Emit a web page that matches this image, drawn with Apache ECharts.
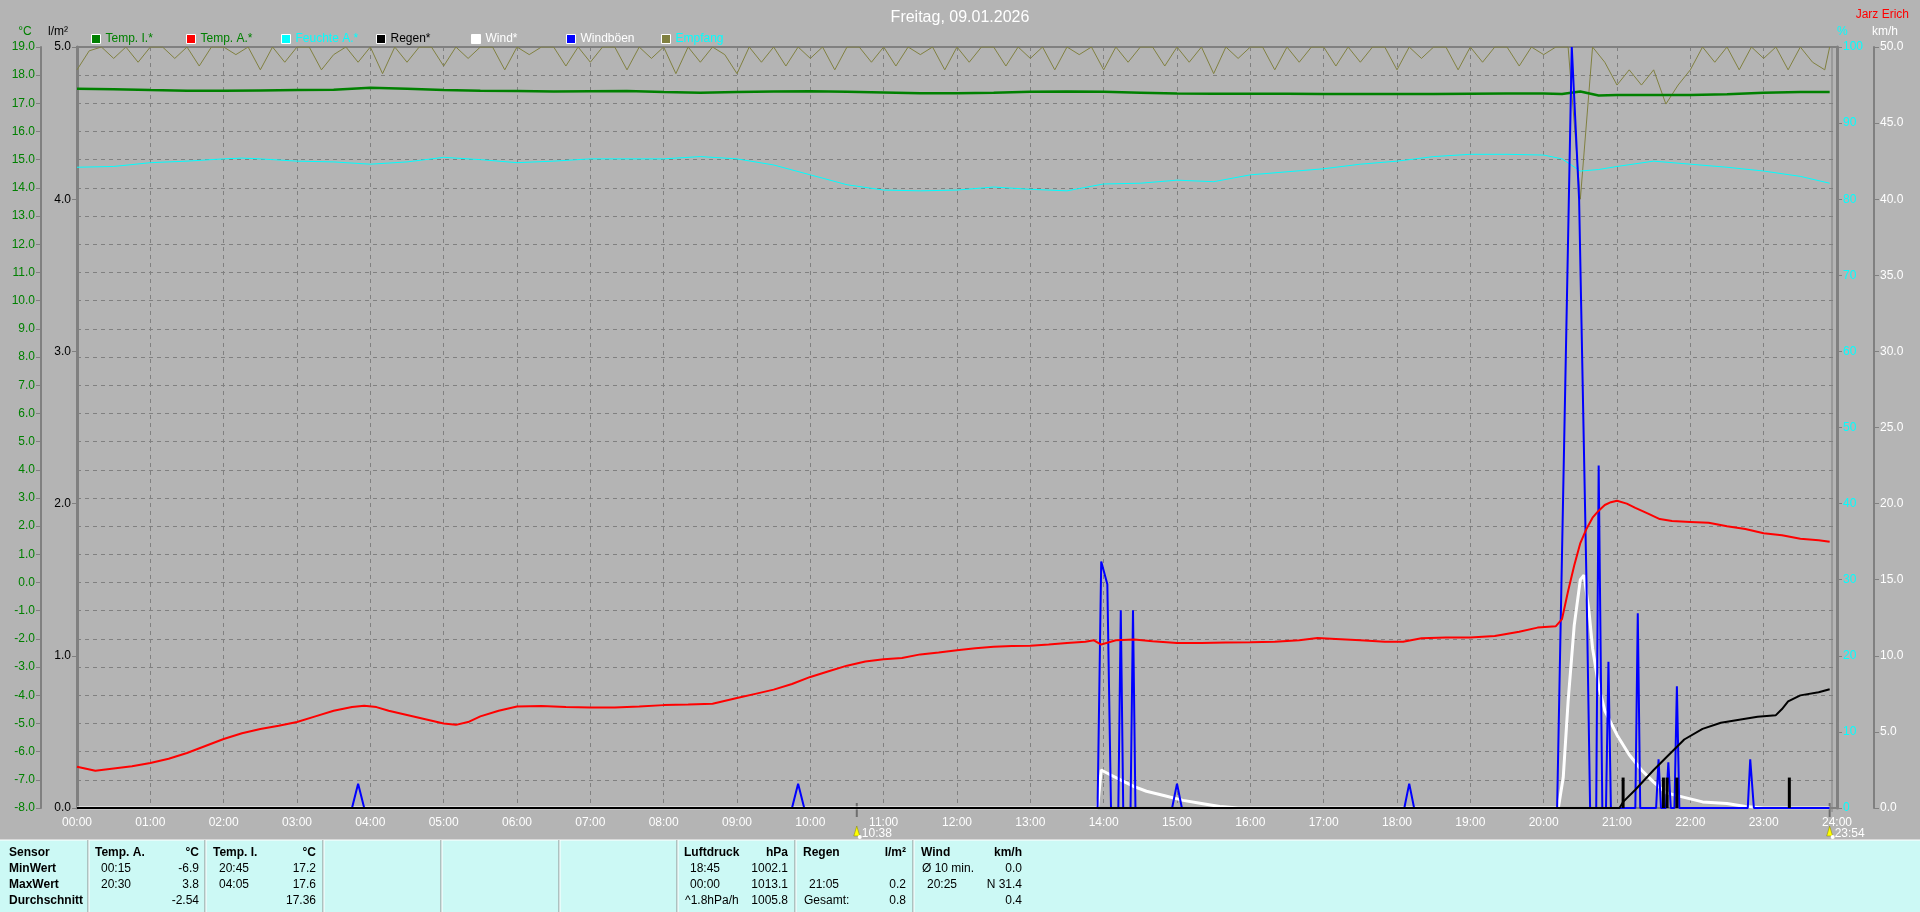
<!DOCTYPE html>
<html><head><meta charset="utf-8">
<script src="https://cdn.jsdelivr.net/npm/echarts@6/dist/echarts.min.js"></script>
<style>html,body{margin:0;padding:0;background:#b4b4b4;overflow:hidden}#c{width:1920px;height:912px;}</style>
</head><body><div id="c"></div><script>
// ---------------- DATA (minutes since 00:00, value) ----------------
const titleText = 'Freitag, 09.01.2026';
const authorText = 'Jarz Erich';
const legendNames = ['Temp. I.*','Temp. A.*','Feuchte A.*','Regen*','Wind*','Windböen','Empfang'];
const axisNames = ['°C','l/m²','%','km/h'];

const tempI = [[0,17.52],[30,17.5],[60,17.47],[90,17.45],[120,17.45],[150,17.46],[180,17.47],[210,17.48],[240,17.55],[270,17.52],[300,17.47],[330,17.45],[360,17.44],[390,17.42],[420,17.43],[450,17.44],[480,17.4],[510,17.38],[540,17.4],[570,17.42],[600,17.43],[630,17.41],[660,17.39],[690,17.36],[720,17.36],[750,17.38],[780,17.41],[810,17.42],[840,17.41],[870,17.38],[900,17.35],[930,17.34],[960,17.34],[990,17.34],[1020,17.33],[1050,17.33],[1080,17.33],[1110,17.33],[1140,17.34],[1170,17.35],[1200,17.35],[1215,17.33],[1230,17.42],[1245,17.28],[1260,17.3],[1290,17.3],[1320,17.3],[1350,17.32],[1380,17.38],[1410,17.4],[1434,17.4]];

const tempA = [[0,-6.54],[15,-6.68],[30,-6.6],[45,-6.52],[60,-6.4],[75,-6.25],[90,-6.05],[105,-5.8],[120,-5.55],[135,-5.35],[150,-5.2],[165,-5.08],[180,-4.95],[195,-4.75],[210,-4.55],[225,-4.42],[235,-4.37],[245,-4.42],[255,-4.55],[270,-4.7],[285,-4.85],[300,-5.0],[310,-5.05],[320,-4.95],[330,-4.75],[345,-4.55],[360,-4.4],[380,-4.38],[400,-4.42],[420,-4.43],[440,-4.43],[460,-4.4],[480,-4.35],[500,-4.33],[520,-4.3],[540,-4.1],[555,-3.95],[570,-3.8],[585,-3.6],[600,-3.35],[615,-3.15],[630,-2.95],[645,-2.8],[660,-2.72],[675,-2.68],[690,-2.55],[705,-2.48],[720,-2.4],[735,-2.33],[750,-2.28],[765,-2.25],[780,-2.24],[795,-2.2],[810,-2.15],[825,-2.1],[832,-2.05],[838,-2.2],[850,-2.05],[865,-2.02],[880,-2.08],[900,-2.15],[920,-2.15],[940,-2.13],[960,-2.12],[980,-2.1],[1000,-2.05],[1015,-1.97],[1030,-2.0],[1050,-2.05],[1070,-2.1],[1085,-2.1],[1100,-1.98],[1120,-1.95],[1140,-1.95],[1160,-1.9],[1180,-1.75],[1195,-1.6],[1210,-1.55],[1215,-1.3],[1220,-0.3],[1225,0.6],[1230,1.4],[1235,1.9],[1240,2.3],[1245,2.55],[1250,2.75],[1255,2.85],[1260,2.9],[1268,2.8],[1275,2.65],[1285,2.45],[1295,2.25],[1305,2.18],[1320,2.15],[1335,2.12],[1350,2.0],[1365,1.9],[1380,1.75],[1395,1.68],[1410,1.55],[1425,1.5],[1434,1.45]];

const humidity = [[0,84.2],[30,84.3],[60,84.8],[90,85.0],[120,85.3],[135,85.4],[150,85.3],[180,85.0],[210,84.9],[240,84.6],[270,84.9],[300,85.5],[330,85.2],[360,84.8],[390,85.0],[420,85.3],[450,85.3],[480,85.3],[510,85.6],[540,85.3],[570,84.5],[600,83.2],[630,81.9],[660,81.2],[690,81.1],[720,81.2],[750,81.6],[780,81.3],[810,81.1],[840,82.0],[870,82.1],[900,82.5],[930,82.3],[960,83.2],[990,83.6],[1020,84.0],[1050,84.6],[1080,85.0],[1110,85.6],[1140,85.9],[1170,85.9],[1200,85.8],[1215,85.3],[1230,83.7],[1245,83.9],[1260,84.3],[1290,85.0],[1320,84.6],[1350,84.2],[1380,83.7],[1410,83.0],[1434,82.1]];

const rainSum = [[0,0],[1262,0],[1265,0.04],[1275,0.12],[1290,0.25],[1300,0.33],[1315,0.45],[1330,0.52],[1345,0.56],[1360,0.58],[1375,0.6],[1390,0.61],[1395,0.65],[1400,0.7],[1410,0.74],[1425,0.76],[1434,0.78]];
const rainBars = [[1265,0.2],[1298,0.2],[1301,0.2],[1309,0.2],[1401,0.2]];

const wind = [[0,0],[835,0],[838,2.5],[845,2.2],[855,1.8],[865,1.4],[875,1.1],[890,0.8],[905,0.5],[920,0.3],[935,0.1],[950,0],[1212,0],[1216,2],[1220,7],[1225,12],[1230,15.0],[1233,15.3],[1237,13],[1240,10.5],[1245,8],[1250,6.4],[1260,4.8],[1270,3.5],[1280,2.5],[1290,1.7],[1300,1.0],[1315,0.7],[1330,0.4],[1350,0.3],[1365,0.1],[1380,0],[1434,0]];

const gusts = [[0,0],[225,0],[230,1.6],[235,0],[585,0],[590,1.6],[595,0],[835,0],[838,16.2],[843,14.7],[846,0],[852,0],[854,13],[856,0],[862,0],[864,13],[866,0],[896,0],[900,1.6],[904,0],[1086,0],[1090,1.6],[1094,0],[1211,0],[1223,50],[1229,40],[1235,15],[1238,0],[1243,0],[1245,22.5],[1248,0],[1251,0],[1253,9.6],[1255,0],[1275,0],[1277,12.8],[1279,0],[1292,0],[1294,3.2],[1296,0],[1300,0],[1302,3],[1304,0],[1307,0],[1309,8],[1311,0],[1367,0],[1369,3.2],[1372,0],[1434,0]];

const reception = [[0,97],[10,99.5],[20,100],[30,98.5],[40,100],[50,98],[60,100],[70,100],[80,98.5],[90,100],[100,97.5],[110,100],[120,100],[130,99],[140,100],[150,97],[160,100],[170,98],[180,100],[190,100],[200,97],[210,99],[220,100],[230,98],[240,100],[250,96.5],[260,100],[270,98],[280,100],[290,100],[300,97.5],[310,100],[320,98.5],[330,100],[340,100],[350,97],[360,100],[370,99],[380,100],[390,100],[400,97.5],[410,100],[420,98],[430,100],[440,100],[450,97],[460,100],[470,98.5],[480,100],[490,96.5],[500,100],[510,98],[520,100],[530,99],[540,96.5],[550,100],[560,98],[570,100],[580,97.5],[590,100],[600,98.5],[610,100],[620,97],[630,100],[640,100],[650,98],[660,100],[670,97.5],[680,100],[690,99],[700,100],[710,97],[720,100],[730,98],[740,100],[750,100],[760,97.5],[770,100],[780,98.5],[790,100],[800,97],[810,100],[820,99],[830,100],[840,97],[850,100],[860,98],[870,100],[880,100],[890,97.5],[900,100],[910,98],[920,100],[930,96.5],[940,100],[950,98.5],[960,100],[970,100],[980,97],[990,100],[1000,98],[1010,100],[1020,100],[1030,97.5],[1040,100],[1050,98],[1060,100],[1070,100],[1080,97],[1090,100],[1100,98.5],[1110,100],[1120,100],[1130,97],[1140,100],[1150,98],[1160,100],[1170,100],[1180,97.5],[1190,100],[1200,99],[1210,100],[1220,100],[1230,80],[1240,100],[1250,98],[1260,95],[1270,97],[1280,95],[1290,97],[1300,92.5],[1310,95],[1320,97],[1330,100],[1340,98],[1350,100],[1360,97],[1370,100],[1380,98.5],[1390,100],[1400,97],[1410,100],[1420,98],[1430,97],[1434,100]];

// statistics table
const statLabels = ['Sensor','MinWert','MaxWert','Durchschnitt'];
const statTempA = {head:'Temp. A.', unit:'°C', times:['00:15','20:30',''], vals:['-6.9','3.8','-2.54']};
const statTempI = {head:'Temp. I.', unit:'°C', times:['20:45','04:05',''], vals:['17.2','17.6','17.36']};
const statPress = {head:'Luftdruck', unit:'hPa', times:['18:45','00:00','^1.8hPa/h'], vals:['1002.1','1013.1','1005.8']};
const statRain  = {head:'Regen', unit:'l/m²', times:['','21:05','Gesamt:'], vals:['','0.2','0.8']};
const statWind  = {head:'Wind', unit:'km/h', times:['Ø 10 min.','20:25',''], vals:['0.0','N 31.4','0.4']};
const sunMarks = [[638,'10:38'],[1434,'23:54']];

// ---------------- CHART ----------------
const FN = "'Liberation Sans',Arial,sans-serif";
const FW = "'Liberation Sans',Arial,sans-serif";
const pad2 = n => (n<10?'0':'')+n;
const colors = ['#008000','#ff0000','#00ffff','#000000','#ffffff','#0000ff','#808040'];
const textColors = ['#008000','#008000','#00ffff','#000000','#ffffff','#ffffff','#00ffff'];
const legendX = [91,186,281,376,471,566,661];

const chart = echarts.init(document.getElementById('c'), null, {renderer:'canvas'});
const gridL=77, gridT=47, gridR=1920-1837, gridB=912-808;

function lineSeries(name, data, yIdx, color, width, z){
  return {name, type:'line', data, yAxisIndex:yIdx, symbol:'none', animation:false, z,
    lineStyle:{color, width}, itemStyle:{color}};
}
function yAx(pos, offset, min, max, interval, color, fmt, lineW, split){
  return {type:'value', position:pos, offset, min, max, interval,
    axisLine:{show:true, onZero:false, lineStyle:{color:'#808080', width:lineW}},
    axisTick:{show:true, length:5, lineStyle:{color:'#808080'}},
    axisLabel:{color, fontSize:12, fontFamily:FN, margin:6, formatter:fmt},
    splitLine: split ? {show:true, lineStyle:{color:'#808080', type:[4,4], width:1}} : {show:false}};
}

const option = {
  backgroundColor:'#b4b4b4',
  animation:false,
  textStyle:{fontFamily:FN},
  title:[
    {text:titleText, left:'center', top:5, textStyle:{color:'#fff', fontSize:16, fontWeight:'normal', fontFamily:FW}},
    {text:authorText, right:6, top:4, textStyle:{color:'#ff0000', fontSize:12, fontWeight:'normal', fontFamily:FN}}
  ],
  legend: legendNames.map((n,i)=>({
    data:[{name:n, textStyle:{color:textColors[i]}}], left:legendX[i], top:33, padding:0,
    icon:'rect', itemWidth:9, itemHeight:9, itemGap:4, selectedMode:false,
    itemStyle:{borderColor:'#ffffff', borderWidth:1},
    textStyle:{fontSize:12, fontFamily:FN}
  })),
  grid:{left:gridL, top:gridT, right:gridR, bottom:gridB, show:true, borderColor:'#808080', borderWidth:2, backgroundColor:'transparent'},
  xAxis:{type:'value', min:0, max:1440, interval:60,
    axisLine:{onZero:false, lineStyle:{color:'#808080', width:2}}, axisTick:{show:false},
    axisLabel:{color:'#fff', fontSize:12, fontFamily:FN, margin:9, formatter:v=>pad2(v/60)+':00'},
    splitLine:{show:true, lineStyle:{color:'#808080', type:[4,4], width:1}}},
  yAxis:[
    yAx('left', 36, -8, 19, 1, '#008000', v=>v.toFixed(1), 2, true),
    yAx('left', 0, 0, 5, 1, '#000000', v=>v.toFixed(1), 3, false),
    yAx('right', 0, 0, 100, 10, '#00ffff', v=>String(v), 3, false),
    yAx('right', 37, 0, 50, 5, '#ffffff', v=>v.toFixed(1), 2, false)
  ],
  series:[
    lineSeries(legendNames[6], reception, 2, colors[6], 1, 2),
    lineSeries(legendNames[2], humidity, 2, colors[2], 1, 3),
    lineSeries(legendNames[0], tempI, 0, colors[0], 2.5, 4),
    lineSeries(legendNames[4], wind, 3, colors[4], 3, 5),
    lineSeries(legendNames[5], gusts, 3, colors[5], 2, 6),
    lineSeries(legendNames[3], rainSum, 1, colors[3], 2, 7),
    {name:legendNames[3], type:'bar', data:rainBars, yAxisIndex:1, barWidth:3, itemStyle:{color:'#000'}, z:7, animation:false},
    lineSeries(legendNames[1], tempA, 0, colors[1], 2, 8)
  ]
};
chart.setOption(option);

// ---------- overlay graphics: axis units, statistics table & sun markers ----------
const g = [];
const unitPos = [[25,'center','#008000'],[58,'center','#000000'],[1837,'left','#00ffff'],[1872,'left','#ffffff']];
axisNames.forEach((n,i)=>g.push({type:'text', x:unitPos[i][0], y:32, style:{text:n, fill:unitPos[i][2], fontFamily:FN, fontSize:12, textAlign:unitPos[i][1], textVerticalAlign:'middle'}}));
g.push({type:'line', shape:{x1:1832, y1:47, x2:1832, y2:812}, style:{stroke:'#808080', lineWidth:1}, z:1});
const tableTop = 840;
g.push({type:'rect', shape:{x:0, y:tableTop, width:1920, height:912-tableTop}, style:{fill:'#ccf9f5'}, silent:true});
g.push({type:'line', shape:{x1:0, y1:tableTop, x2:1920, y2:tableTop}, style:{stroke:'#ffffff', lineWidth:1}});
[88,205,323,441,559,677,795,913].forEach(x=>{
  g.push({type:'line', shape:{x1:x, y1:tableTop, x2:x, y2:912}, style:{stroke:'#8a8a8a', lineWidth:1}});
  g.push({type:'line', shape:{x1:x+1, y1:tableTop, x2:x+1, y2:912}, style:{stroke:'#ffffff', lineWidth:1}});
});
const rowY = [853,869,885,901];
const bold = {fontFamily:FW, fontSize:12, fontWeight:'bold', fill:'#000'};
const norm = {fontFamily:FN, fontSize:12, fontWeight:'normal', fill:'#000'};
statLabels.forEach((t,i)=>g.push({type:'text', x:9, y:rowY[i], style:Object.assign({text:t, textVerticalAlign:'middle', textAlign:'left'}, bold)}));
[[statTempA,95,199],[statTempI,213,316],[statPress,684,788],[statRain,803,906],[statWind,921,1022]].forEach(([s,xl,xr])=>{
  g.push({type:'text', x:xl, y:rowY[0], style:Object.assign({text:s.head, textVerticalAlign:'middle', textAlign:'left'}, bold)});
  g.push({type:'text', x:xr, y:rowY[0], style:Object.assign({text:s.unit, textVerticalAlign:'middle', textAlign:'right'}, bold)});
  s.times.forEach((t,i)=>{ if(!t) return;
    const ind = /^\d/.test(t) ? 6 : 1;
    g.push({type:'text', x:xl+ind, y:rowY[i+1], style:Object.assign({text:t, textVerticalAlign:'middle', textAlign:'left'}, norm)});
  });
  s.vals.forEach((t,i)=>{ if(!t) return;
    g.push({type:'text', x:xr, y:rowY[i+1], style:Object.assign({text:t, textVerticalAlign:'middle', textAlign:'right'}, norm)});
  });
});
sunMarks.forEach(([m,label])=>{
  const x = chart.convertToPixel({xAxisIndex:0}, m);
  g.push({type:'line', shape:{x1:x, y1:803, x2:x, y2:817}, style:{stroke:'#6e6e6e', lineWidth:2}});
  g.push({type:'polygon', shape:{points:[[x-3,836],[x,826],[x+3,836]]}, style:{fill:'#ffff00', stroke:'#808000', lineWidth:0.5}});
  g.push({type:'circle', shape:{cx:x+3, cy:837, r:2}, style:{fill:'#ffffff'}});
  g.push({type:'text', x:x+5, y:834, style:{text:label, fill:'#fff', fontFamily:FN, fontSize:12, textVerticalAlign:'middle'}});
});
chart.setOption({graphic:{elements:g}});
</script></body></html>
